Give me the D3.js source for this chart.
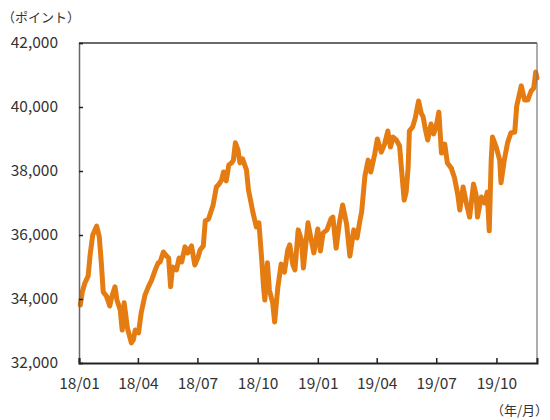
<!DOCTYPE html>
<html>
<head>
<meta charset="utf-8">
<script src="https://cdn.jsdelivr.net/npm/d3@7"></script>
<style>
  html, body { margin: 0; padding: 0; background: #fff; }
  svg text { font-family: "Noto Sans CJK JP", "Noto Sans", sans-serif; fill: #333; }
</style>
</head>
<body>
<svg id="chart" width="550" height="420"></svg>
<script>
// ---- data ----
const dates = [
  "2018-01-03","2018-01-06","2018-01-10","2018-01-15","2018-01-18","2018-01-22","2018-01-28","2018-02-01",
  "2018-02-04","2018-02-07","2018-02-12","2018-02-17","2018-02-20","2018-02-25","2018-02-28","2018-03-05",
  "2018-03-08","2018-03-11","2018-03-16","2018-03-22","2018-03-25","2018-03-28","2018-04-02","2018-04-06",
  "2018-04-12","2018-04-17","2018-04-22","2018-04-27","2018-05-02","2018-05-05","2018-05-10","2018-05-15",
  "2018-05-18","2018-05-21","2018-05-24","2018-05-30","2018-06-03","2018-06-07","2018-06-12","2018-06-16",
  "2018-06-22","2018-06-27","2018-07-02","2018-07-05","2018-07-10","2018-07-13","2018-07-18","2018-07-25",
  "2018-07-30","2018-08-03","2018-08-07","2018-08-10","2018-08-14","2018-08-18","2018-08-22","2018-08-25",
  "2018-08-28","2018-09-01","2018-09-04","2018-09-08","2018-09-14","2018-09-17","2018-09-21","2018-09-24",
  "2018-09-29","2018-10-03","2018-10-07","2018-10-10","2018-10-12","2018-10-16","2018-10-19","2018-10-24",
  "2018-10-27","2018-11-01","2018-11-06","2018-11-11","2018-11-16","2018-11-19","2018-11-24","2018-11-27",
  "2018-12-02","2018-12-07","2018-12-10","2018-12-17","2018-12-22","2018-12-26","2019-01-01","2019-01-05",
  "2019-01-09","2019-01-15","2019-01-21","2019-01-24","2019-01-29","2019-02-03","2019-02-08","2019-02-14",
  "2019-02-19","2019-02-25","2019-03-02","2019-03-06","2019-03-09","2019-03-14","2019-03-19","2019-03-23",
  "2019-03-29","2019-04-02","2019-04-08","2019-04-13","2019-04-18","2019-04-22","2019-04-26","2019-05-01",
  "2019-05-06","2019-05-09","2019-05-13","2019-05-16","2019-05-19","2019-05-21","2019-05-26","2019-05-30",
  "2019-06-04","2019-06-08","2019-06-11","2019-06-14","2019-06-18","2019-06-23","2019-06-27","2019-07-01",
  "2019-07-05","2019-07-09","2019-07-14","2019-07-18","2019-07-24","2019-07-29","2019-08-03","2019-08-06",
  "2019-08-11","2019-08-16","2019-08-21","2019-08-27","2019-08-31","2019-09-02","2019-09-08","2019-09-13",
  "2019-09-17","2019-09-20","2019-09-23","2019-09-25","2019-10-01","2019-10-06","2019-10-08","2019-10-13",
  "2019-10-18","2019-10-23","2019-10-29","2019-11-01","2019-11-08","2019-11-13","2019-11-18","2019-11-23",
  "2019-11-27","2019-11-30","2019-12-02"
];
const values = [
  33810,34220,34500,34720,35380,36000,36280,35940,
  35160,34220,34090,33780,34060,34380,33970,33660,
  33030,33880,33090,32630,32720,33030,32940,33560,
  34130,34380,34590,34880,35130,35160,35470,35340,
  35280,34380,35000,34910,35280,35160,35630,35440,
  35660,35060,35310,35530,35660,36440,36500,36940,
  37500,37590,37720,37970,37690,38190,38250,38340,
  38880,38660,38250,38380,38030,37410,37000,36690,
  36250,36380,35310,34380,33970,35130,34280,33880,
  33280,34380,35090,34840,35530,35690,35060,34910,
  36160,35840,34970,36380,35840,35440,36190,35500,
  36060,36160,36500,36560,35590,36380,36940,36340,
  35340,36160,35910,36410,36720,37840,38340,37970,
  38530,39000,38590,38840,39250,38750,39060,38970,
  38780,38030,37090,37340,38090,39250,39380,39660,
  40190,39810,39690,39340,38970,39470,39160,39410,
  39840,38560,38840,38250,38090,37780,37250,36780,
  37500,37000,36560,37590,37250,36560,37190,37000,
  37340,36130,38340,39060,38720,38340,37630,38340,
  38880,39190,39220,40030,40660,40220,40220,40500,
  40590,41090,40910
];
const yTicks = [32000, 34000, 36000, 38000, 40000, 42000];
const xTickDates = ["2018-01-01","2018-04-01","2018-07-01","2018-10-01","2019-01-01","2019-04-01","2019-07-01","2019-10-01"];
const xTickLabels = ["18/01","18/04","18/07","18/10","19/01","19/04","19/07","19/10"];
const yUnitLabel = "（ポイント）";
const xUnitLabel = "（年/月）";

// ---- drawing ----
const parse = d3.timeParse("%Y-%m-%d");
const data = dates.map((d, i) => ({ date: parse(d), value: values[i] }));

const L = 79, R = 537, T = 43, B = 363;
const svg = d3.select("#chart");

const x = d3.scaleTime()
  .domain([parse("2018-01-01"), parse("2019-12-02")])
  .range([L, R]);
const y = d3.scaleLinear().domain([32000, 42000]).range([B, T]);

// line
const line = d3.line().x(d => x(d.date)).y(d => y(d.value)).curve(d3.curveLinear);
svg.append("path")
  .datum(data)
  .attr("fill", "none")
  .attr("stroke", "#e47c12")
  .attr("stroke-width", 5)
  .attr("stroke-linejoin", "round")
  .attr("stroke-linecap", "round")
  .attr("d", line);

// frame
svg.append("line").attr("x1", L).attr("x2", R).attr("y1", T).attr("y2", T)
  .attr("stroke", "#3a3a3a").attr("stroke-width", 1.5);
svg.append("line").attr("x1", R).attr("x2", R).attr("y1", T).attr("y2", B)
  .attr("stroke", "#777").attr("stroke-width", 1.2);

// y axis (ticks inward)
const yAxis = d3.axisLeft(y).tickValues(yTicks).tickSize(-4).tickPadding(20)
  .tickFormat(d3.format(","));
const gy = svg.append("g").attr("transform", `translate(${L},0)`).call(yAxis);
gy.select(".domain").attr("stroke", "#666").attr("stroke-width", 1.5);
gy.selectAll(".tick line").attr("stroke", "#222").attr("stroke-width", 1.5);
gy.selectAll(".tick text")
  .attr("font-size", 15.5).attr("x", -21)
  .style("font-family", '"Noto Sans CJK JP", sans-serif').attr("fill", "#333");

// x axis (ticks inward)
const xAxis = d3.axisBottom(x)
  .tickValues(xTickDates.map(parse))
  .tickSize(-5).tickPadding(15)
  .tickFormat((d, i) => xTickLabels[i]);
const gx = svg.append("g").attr("transform", `translate(0,${B})`).call(xAxis);
gx.select(".domain").attr("stroke", "#222").attr("stroke-width", 2);
gx.selectAll(".tick line").attr("stroke", "#222").attr("stroke-width", 1.5);
gx.selectAll(".tick text")
  .attr("font-size", 15.5)
  .style("font-family", '"Noto Sans CJK JP", sans-serif').attr("fill", "#333");

// unit labels
svg.append("text").attr("x", 2).attr("y", 22)
  .attr("font-size", 13).text(yUnitLabel);
svg.append("text").attr("x", 548).attr("y", 415)
  .attr("text-anchor", "end").attr("font-size", 13).text(xUnitLabel);
</script>
</body>
</html>
